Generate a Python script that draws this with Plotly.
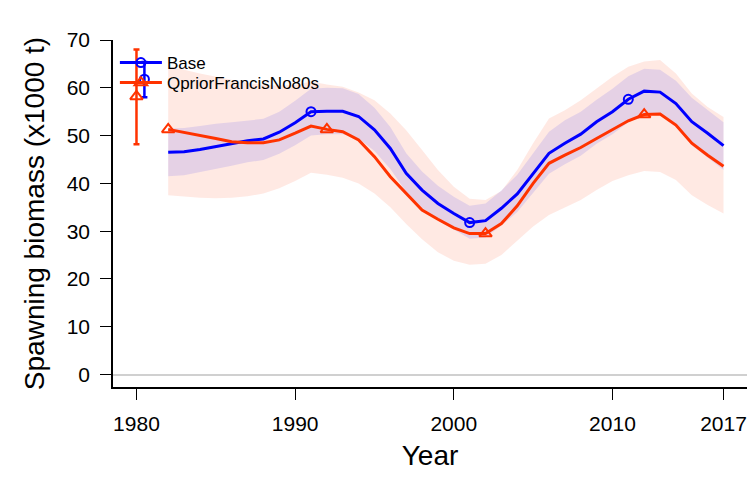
import plotly.graph_objects as go

# ---------------- data ----------------
years = list(range(1982, 2018))

base_ssb = [46.5, 46.6, 47.1, 47.7, 48.2, 48.9, 49.3, 50.7, 52.7, 55.0,
            55.1, 55.1, 54.0, 51.2, 47.3, 42.1, 38.6, 35.8, 33.7, 31.8,
            32.2, 34.8, 37.8, 42.1, 46.3, 48.4, 50.3, 52.9, 55.0, 57.6,
            59.3, 59.1, 56.7, 52.9, 50.5, 47.9]
base_lo = [41.5, 41.7, 42.3, 43.0, 43.7, 44.4, 44.9, 46.2, 48.0, 50.0,
           50.3, 50.3, 49.4, 46.8, 43.0, 38.2, 34.9, 32.3, 30.3, 28.4,
           28.7, 31.2, 34.0, 38.0, 42.0, 44.0, 45.8, 48.3, 50.3, 52.8,
           54.5, 54.3, 51.8, 48.0, 45.5, 42.8]
base_hi = [51.5, 51.6, 52.0, 52.5, 52.8, 53.2, 53.5, 55.0, 57.3, 59.8,
           60.0, 59.9, 58.7, 55.8, 51.8, 46.3, 42.5, 39.5, 37.2, 35.3,
           35.8, 38.5, 41.8, 46.3, 50.8, 53.2, 55.0, 57.5, 59.8, 62.4,
           64.0, 63.8, 61.5, 57.9, 55.4, 52.8]

alt_ssb = [51.3, 50.7, 50.0, 49.4, 48.7, 48.5, 48.5, 49.1, 50.5, 52.0,
           51.3, 50.8, 49.1, 45.6, 41.4, 37.9, 34.4, 32.5, 30.7, 29.5,
           29.5, 31.6, 35.3, 40.0, 44.2, 45.9, 47.5, 49.4, 51.2, 53.1,
           54.4, 54.5, 52.2, 48.4, 45.9, 43.6]
alt_lo = [37.5, 37.2, 37.0, 36.9, 37.0, 37.3, 37.9, 39.0, 40.5, 42.2,
          41.8, 41.2, 40.0, 37.9, 35.0, 31.5, 28.3, 25.6, 23.8, 23.0,
          23.2, 25.0, 28.0, 31.0, 33.4, 35.0, 36.5, 38.6, 40.5, 41.7,
          42.6, 42.4, 40.7, 37.5, 35.5, 33.7]
alt_hi = [64.4, 63.8, 63.0, 62.3, 61.6, 61.0, 60.6, 60.5, 60.6, 61.3,
          60.7, 60.2, 59.0, 57.4, 54.6, 51.1, 47.0, 42.8, 39.3, 36.8,
          36.5, 38.4, 42.8, 48.4, 53.6, 55.3, 57.4, 59.9, 62.3, 64.4,
          65.5, 65.8, 63.0, 58.8, 56.0, 53.9]

base_marker_years = [1991, 2001, 2011]
alt_marker_years = [1982, 1992, 2002, 2012]

virgin_year = 1980
base_virgin = 61.8
base_virgin_lo = 58.0
base_virgin_hi = 65.4
alt_virgin = 58.2
alt_virgin_lo = 48.2
alt_virgin_hi = 68.0

model_names = ["Base", "QpriorFrancisNo80s"]
x_tickvals = [1980, 1990, 2000, 2010, 2017]
y_tickvals = [0, 10, 20, 30, 40, 50, 60, 70]

# ---------------- style ----------------
BLUE = "#0000ff"
RED = "#ff3300"
FONT = "Liberation Sans, Arial, sans-serif"

fig = go.Figure()


def band(lo, hi, color):
    fig.add_trace(go.Scatter(
        x=years + years[::-1], y=hi + lo[::-1], fill="toself",
        fillcolor=color, line=dict(width=0), mode="lines",
        hoverinfo="skip", showlegend=False))


band(alt_lo, alt_hi, "rgba(255,51,0,0.11)")
band(base_lo, base_hi, "rgba(0,0,255,0.10)")

series = [
    (base_ssb, base_marker_years, BLUE, "circle-open", 9),
    (alt_ssb, alt_marker_years, RED, "triangle-up-open", 11),
]
for vals, myears, col, sym, ms in series:
    fig.add_trace(go.Scatter(x=years, y=vals, mode="lines",
                             line=dict(color=col, width=3),
                             showlegend=False, hoverinfo="skip"))
    fig.add_trace(go.Scatter(
        x=myears, y=[vals[years.index(yy)] for yy in myears],
        mode="markers",
        marker=dict(symbol=sym, size=ms, color=col, line=dict(width=2, color=col)),
        showlegend=False, hoverinfo="skip"))

# virgin biomass with intervals
virgins = [
    (virgin_year + 0.5, base_virgin, base_virgin_lo, base_virgin_hi, BLUE, "circle-open", 9),
    (virgin_year, alt_virgin, alt_virgin_lo, alt_virgin_hi, RED, "triangle-up-open", 11),
]
for xv, v, lo, hi, col, sym, ms in virgins:
    fig.add_trace(go.Scatter(
        x=[xv], y=[v], mode="markers",
        marker=dict(symbol=sym, size=ms, color=col, line=dict(width=2, color=col)),
        error_y=dict(type="data", symmetric=False, array=[hi - v], arrayminus=[v - lo],
                     color=col, thickness=2.5, width=3),
        showlegend=False, hoverinfo="skip"))

# legend entries (one legend box per row for tight spacing)
for name, col, sym, ms, lg in [(model_names[0], BLUE, "circle-open", 9, "legend"),
                               (model_names[1], RED, "triangle-up-open", 11, "legend2")]:
    fig.add_trace(go.Scatter(
        x=[None], y=[None], mode="lines+markers", name=name, legend=lg,
        line=dict(color=col, width=3),
        marker=dict(symbol=sym, size=ms, color=col, line=dict(width=2, color=col))))

# The page body has an 8 px margin: size the figure to fit inside it.
legend_style = dict(x=0.003, xanchor="left", yanchor="top",
                    bgcolor="rgba(0,0,0,0)", font=dict(size=17, family=FONT),
                    itemwidth=42)

fig.update_layout(
    width=739, height=463,
    margin=dict(l=105, r=0, t=32, b=84, autoexpand=False),
    paper_bgcolor="white", plot_bgcolor="white",
    font=dict(family=FONT, color="black", size=21),
    showlegend=True,
    legend=dict(y=0.9856, **legend_style),
    legend2=dict(y=0.928, **legend_style),
    xaxis=dict(range=[1978.52, 2018.48], tickmode="array", tickvals=x_tickvals,
               ticktext=[str(v) for v in x_tickvals], automargin=False,
               showline=True, linecolor="black", linewidth=1.5,
               ticks="outside", ticklen=11, tickwidth=1.2, tickcolor="black",
               showgrid=False, zeroline=False,
               tickfont=dict(size=21), ticklabelstandoff=6,
               title=dict(text="Year", font=dict(size=28), standoff=27)),
    yaxis=dict(range=[-2.6, 70], tickmode="array", tickvals=y_tickvals,
               automargin=False,
               showline=True, linecolor="black", linewidth=1.5,
               ticks="outside", ticklen=11, tickwidth=1.2, tickcolor="black",
               showgrid=False, zeroline=True, zerolinecolor="#d0d0d0",
               zerolinewidth=2,
               tickfont=dict(size=21), ticklabelstandoff=6,
               title=dict(text="Spawning biomass (x1000 t)", font=dict(size=28),
                          standoff=14)),
)

fig.write_html("out.html")
